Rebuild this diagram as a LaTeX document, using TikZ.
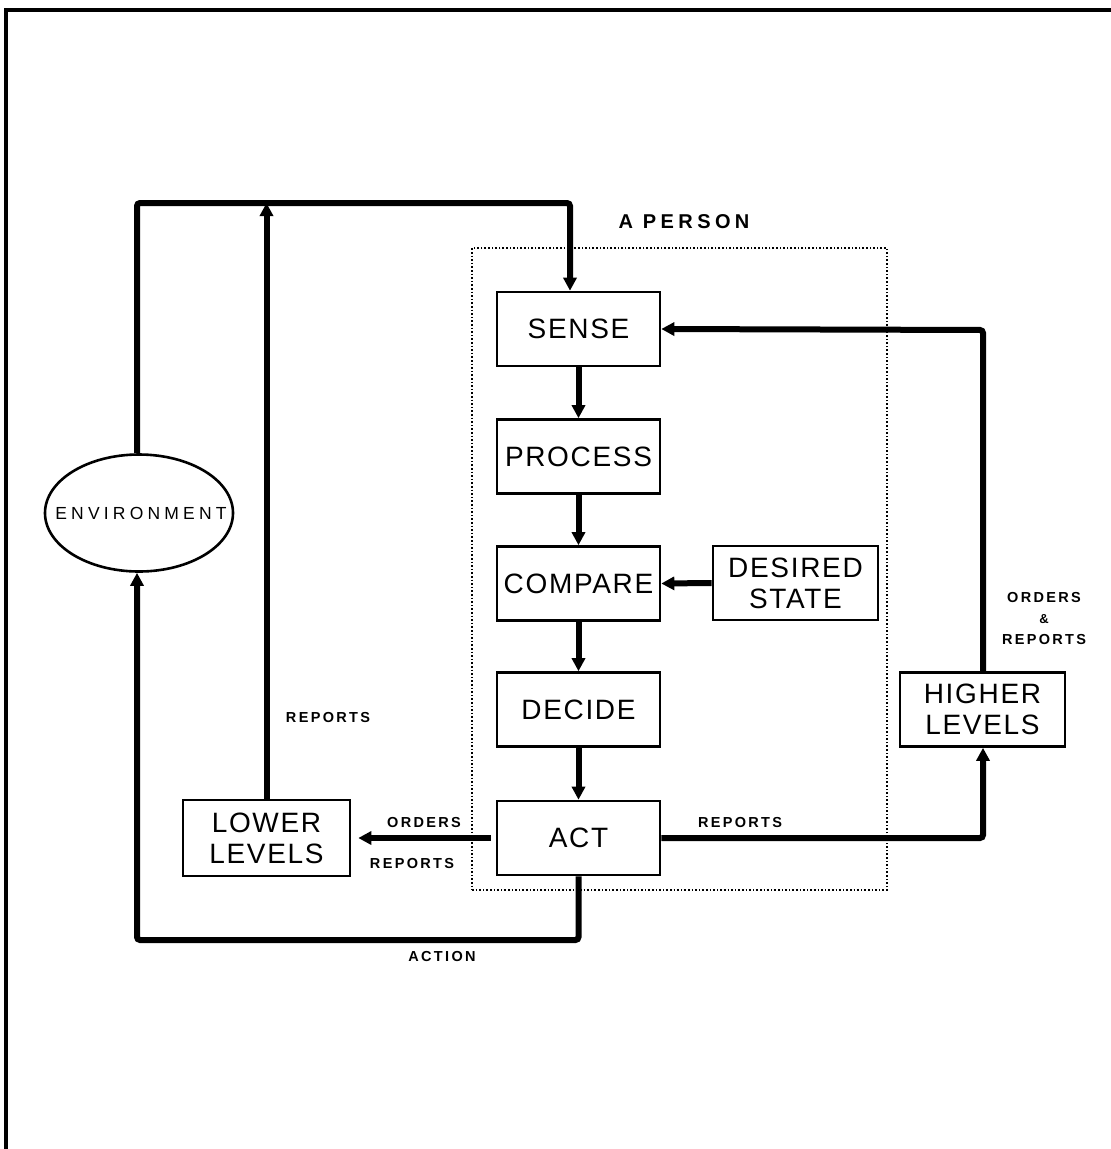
\documentclass[tikz,border=0pt]{standalone}
\usepackage{fontspec}
\setmainfont{Liberation Sans}
\usetikzlibrary{arrows.meta,shapes.geometric}
\begin{document}
\begin{tikzpicture}[x=1pt,y=-1pt,
  box/.style={draw, line width=2.6pt, minimum width=163pt, minimum height=74pt,
    font=\fontsize{28}{31}\selectfont\addfontfeature{LetterSpace=6}, align=center, inner sep=0pt},
  flow/.style={line width=6pt, rounded corners=3pt, -{Triangle[length=13pt,width=13pt]}},
  lab/.style={font=\fontsize{14.5}{21}\selectfont\bfseries\addfontfeature{LetterSpace=16}, align=center, inner sep=0pt},
  frame/.style={line width=3.5pt}
]
\useasboundingbox (0,0) rectangle (1111,1149);
\draw[frame] (1111,10) -- (6,10) -- (6,1149);

% person boundary
\node[draw, dotted, line width=1.6pt, minimum width=415pt, minimum height=642pt, inner sep=0pt] (person) at (679.5,569) {};
\node[font=\fontsize{20}{22}\selectfont\bfseries\addfontfeature{LetterSpace=22}, inner sep=0pt] (personlab) at (684,222) {A PERSON};

% boxes
\node[box] (sense)   at (578.5,329)   {SENSE};
\node[box] (process) at (578.5,456.5) {PROCESS};
\node[box] (compare) at (578.5,583.5) {COMPARE};
\node[box] (decide)  at (578.5,709.5) {DECIDE};
\node[box] (act)     at (578.5,838)   {ACT};
\node[box, minimum width=165pt] (desired) at (795.5,583) {DESIRED\\STATE};
\node[box, minimum width=165pt] (higher)  at (982.5,709.5) {HIGHER\\LEVELS};
\node[box, minimum width=167pt, minimum height=76pt] (lower) at (266.5,838) {LOWER\\LEVELS};
\node[draw, ellipse, line width=2.6pt, minimum width=188pt, minimum height=117pt, inner sep=0pt] (env) at (139,513) {};
\node[font=\fontsize{17.5}{19}\selectfont\addfontfeature{LetterSpace=24}, inner sep=0pt] (envlab) at (141,513) {ENVIRONMENT};

% helper coordinates
\coordinate (tl) at (137,203);
\coordinate (tr) at (570,203);
\coordinate (bl) at (137,940);
\coordinate (hr) at (983,330);

% connectors
\draw[flow] (env.north -| tl) -- (tl) -- (tr) -- (sense.north -| tr);
\draw[flow] (lower.north) -- (lower.north |- tl);
\draw[flow] (sense.south) -- (process.north);
\draw[flow] (process.south) -- (compare.north);
\draw[flow] (compare.south) -- (decide.north);
\draw[flow] (decide.south) -- (act.north);
\draw[flow] (desired.west) -- (compare.east);
\draw[flow] (higher.north -| hr) -- (hr) -- (sense.east);
\draw[flow] (act.east) -| (higher.south -| hr);
\draw[flow, shorten <=5pt, shorten >=7pt] (act.west) -- (lower.east);
\draw[flow] (act.south) |- (bl) -- (env.south -| bl);

% labels
\node[lab] (l1) at (328,717) {REPORTS};
\node[lab] (l2) at (424,822) {ORDERS};
\node[lab] (l3) at (412,863) {REPORTS};
\node[lab] (l4) at (740,822) {REPORTS};
\node[lab] (l5) at (1044,618) {ORDERS\\{\fontsize{13}{10}\selectfont\&}\\REPORTS};
\node[lab] (l6) at (442,956) {ACTION};
\end{tikzpicture}
\end{document}
